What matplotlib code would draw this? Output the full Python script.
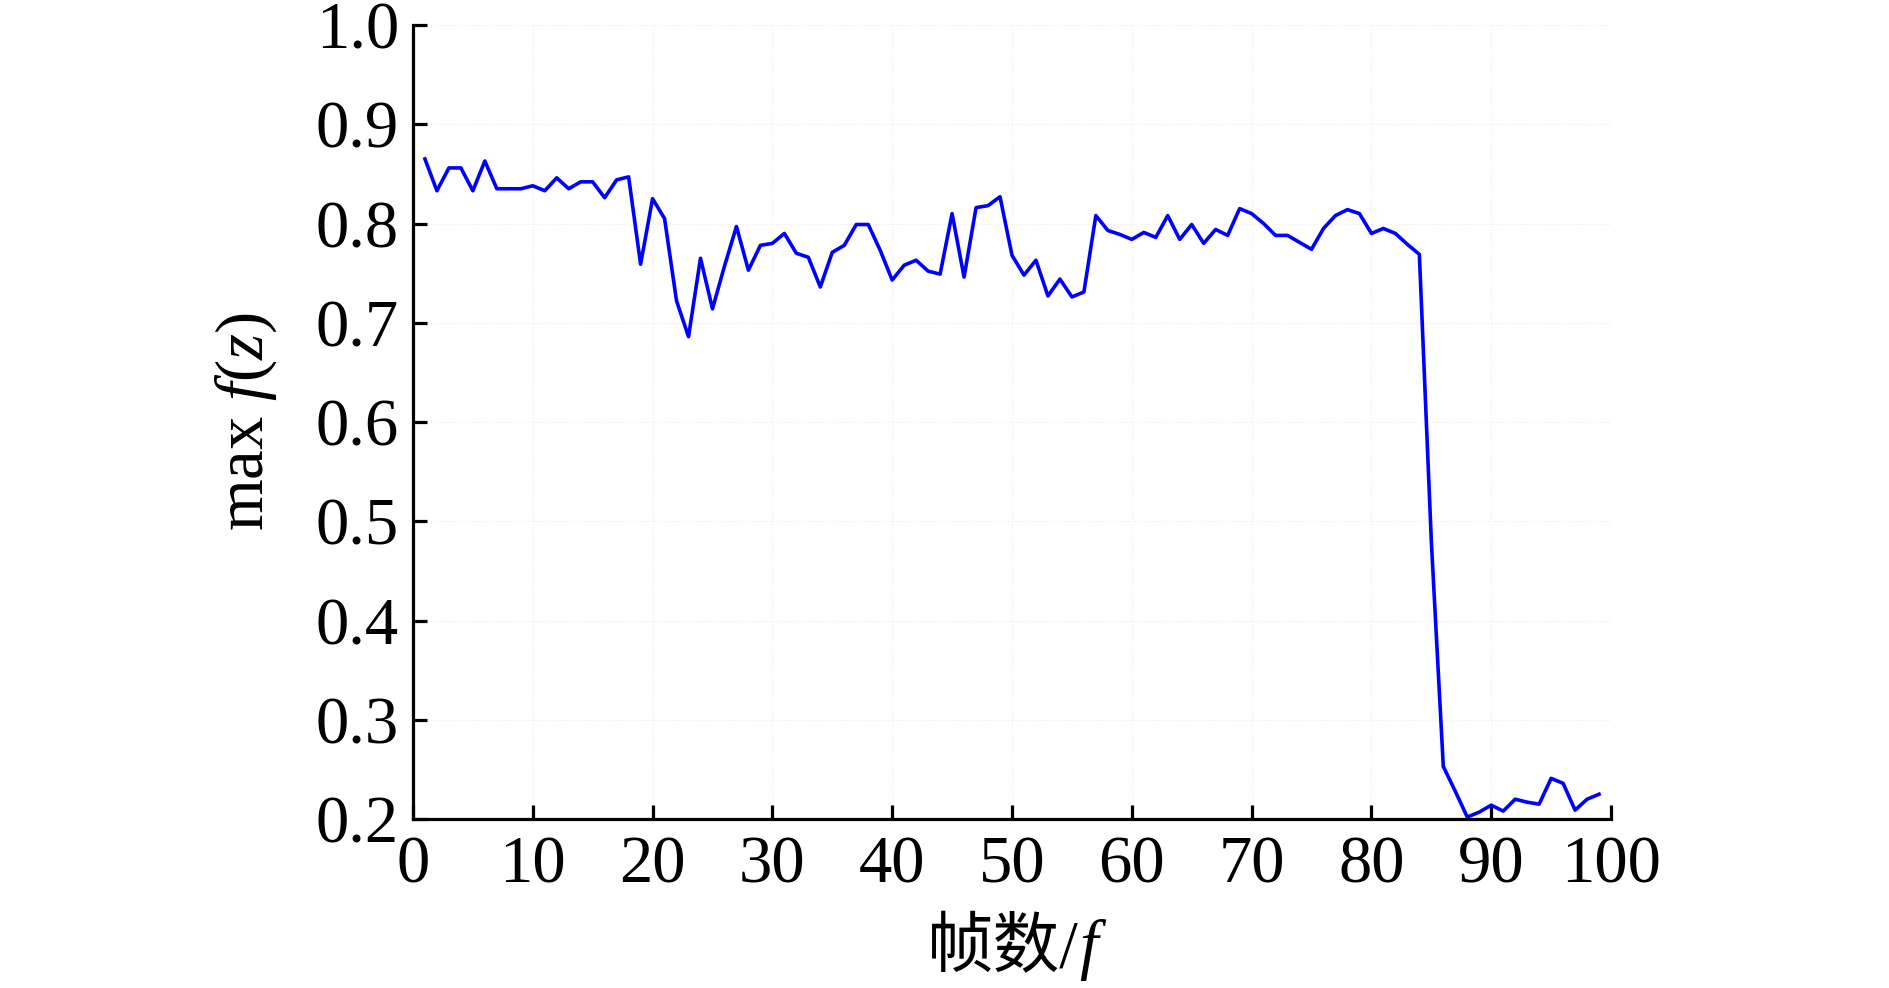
import numpy as np
import matplotlib
matplotlib.use('Agg')
import matplotlib.pyplot as plt
from matplotlib import rcParams

# fonts: Times-like serif, CJK fallback
rcParams['font.family'] = ['Liberation Serif', 'Noto Sans CJK SC']
rcParams['mathtext.fontset'] = 'custom'
rcParams['mathtext.rm'] = 'Liberation Serif'
rcParams['mathtext.it'] = 'Liberation Serif:italic'
rcParams['axes.linewidth'] = 2.3

frames = list(range(1, 100))
max_fz = [0.865, 0.833, 0.856, 0.856, 0.833, 0.863, 0.835, 0.835, 0.835, 0.838,
          0.833, 0.846, 0.835, 0.842, 0.842, 0.826, 0.844, 0.847, 0.759, 0.825,
          0.805, 0.722, 0.686, 0.765, 0.714, 0.757, 0.797, 0.753, 0.778, 0.780,
          0.790, 0.770, 0.766, 0.736, 0.771, 0.778, 0.799, 0.799, 0.773, 0.743,
          0.758, 0.763, 0.752, 0.749, 0.810, 0.746, 0.816, 0.818, 0.827, 0.768,
          0.748, 0.763, 0.727, 0.744, 0.726, 0.731, 0.808, 0.793, 0.789, 0.784,
          0.791, 0.786, 0.808, 0.784, 0.799, 0.780, 0.794, 0.788, 0.815, 0.810,
          0.800, 0.788, 0.788, 0.781, 0.774, 0.795, 0.808, 0.814, 0.810, 0.790,
          0.795, 0.790, 0.779, 0.769, 0.480, 0.253, 0.228, 0.202, 0.207, 0.214,
          0.208, 0.220, 0.217, 0.215, 0.241, 0.236, 0.209, 0.220, 0.225]

xticks = np.arange(0, 101, 10)
yticks = np.round(np.arange(0.2, 1.01, 0.1), 1)

fig = plt.figure(figsize=(18.9, 9.88), dpi=100)
ax = fig.add_axes([0.2185, 0.171, 0.6339, 0.8037])

ax.plot(frames, max_fz, color='#0000ff', linewidth=2.6)

ax.set_xlim(0, 100)
ax.set_ylim(0.2, 1.0)
ax.set_xticks(xticks)
ax.set_yticks(yticks)
ax.set_yticklabels(['%.1f' % v for v in yticks])
ax.grid(True, linestyle=':', color='#ececec', linewidth=0.8)

ax.spines['top'].set_visible(False)
ax.spines['right'].set_visible(False)
ax.tick_params(direction='in', length=10, width=2.3, labelsize=48,
               top=False, right=False)
ax.tick_params(axis='x', pad=12)
ax.tick_params(axis='y', pad=10)

ax.set_ylabel(r'$\mathrm{max}\ f(z)$', fontsize=48)
ax.yaxis.set_label_coords(-0.112, 0.5)

# x label: CJK + italic f
t1 = ax.text(0.556, -0.186, '帧数/', transform=ax.transAxes, fontsize=48,
             ha='right', va='baseline')
ax.annotate('f', xy=(1, -0.186), xycoords=(t1, 'axes fraction'),
            fontsize=48, style='italic', family='Liberation Serif',
            ha='left', va='baseline', annotation_clip=False)

plt.savefig('out.png', dpi=100)
